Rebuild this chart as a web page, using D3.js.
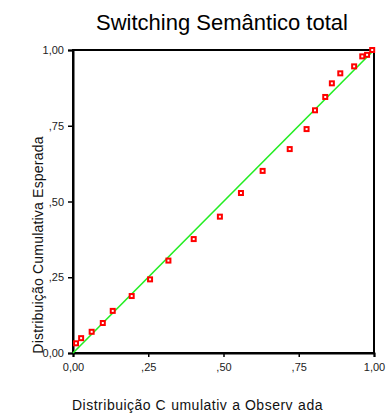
<!DOCTYPE html>
<html><head><meta charset="utf-8">
<script src="https://cdn.jsdelivr.net/npm/d3@7"></script>
<style>body{margin:0;background:#fff}svg{display:block}</style>
</head><body>
<script>
const title = "Switching Semântico total";
const observed = [0.010,0.027,0.062,0.099,0.132,0.195,0.256,0.317,0.401,0.488,0.558,0.630,0.720,0.776,0.804,0.838,0.860,0.888,0.934,0.961,0.977,0.994];
const expected = [0.032,0.049,0.070,0.099,0.139,0.188,0.243,0.305,0.376,0.450,0.528,0.601,0.673,0.739,0.801,0.845,0.890,0.923,0.946,0.979,0.984,1.000];
const tickValues = [0, 0.25, 0.5, 0.75, 1];
const tickLabels = ["0,00", ",25", ",50", ",75", "1,00"];
const xTitleParts = ["Distribuição C", "umulativ", "a Observ", "ada"];
const yTitle = "Distribuição Cumulativa Esperada";

const W = 386, H = 416;
const L = 73, R = 374, T = 50, B = 353;
const svg = d3.select("body").append("svg").attr("width", W).attr("height", H)
  .style("font-family", "'Liberation Sans', Arial, sans-serif");

const x = d3.scaleLinear().domain([0,1]).range([L,R]);
const y = d3.scaleLinear().domain([0,1]).range([B,T]);

svg.append("text").attr("x", 222).attr("y", 30).attr("text-anchor","middle")
  .attr("font-size", 22).attr("fill","#000").text(title);

// frame
svg.append("rect").attr("x", L).attr("y", T).attr("width", R-L).attr("height", B-T)
  .attr("fill","none").attr("stroke","#000").attr("stroke-width",2);

const fmt = (d) => tickLabels[tickValues.indexOf(d)];
const xAxis = d3.axisBottom(x).tickValues(tickValues).tickFormat(fmt).tickSize(4).tickPadding(6);
const yAxis = d3.axisLeft(y).tickValues(tickValues).tickFormat(fmt).tickSize(5).tickPadding(4);

const gx = svg.append("g").attr("transform", `translate(0,${B})`).call(xAxis);
const gy = svg.append("g").attr("transform", `translate(${L},0)`).call(yAxis);
[gx, gy].forEach(g => {
  g.select(".domain").attr("stroke","#000").attr("stroke-width",2);
  g.selectAll(".tick line").attr("stroke","#000").attr("stroke-width",1.5);
  g.selectAll(".tick text").attr("font-size",11).attr("fill","#222")
    .style("font-family","'Liberation Sans', Arial, sans-serif");
});

// diagonal
svg.append("line").attr("x1", x(0)).attr("y1", y(0)).attr("x2", x(1)).attr("y2", y(1))
  .attr("stroke","#22ee22").attr("stroke-width",1.6);

// points
const pts = observed.map((o,i)=>({o, e: expected[i]}));
svg.append("g").selectAll("rect").data(pts).join("rect")
  .attr("x", d => x(d.o)-2).attr("y", d => y(d.e)-2)
  .attr("width", 4).attr("height", 4)
  .attr("fill","#fff").attr("stroke","#ff0000").attr("stroke-width",2);

// x title
const xt = svg.append("text").attr("x", 72).attr("y", 409.5).attr("font-size", 14)
  .attr("letter-spacing", 0.5).attr("fill","#111");
xTitleParts.forEach((p,i) => xt.append("tspan").attr("dx", i ? 5 : 0).text(p));

// y title
svg.append("text").attr("transform", `translate(43,245) rotate(-90)`)
  .attr("text-anchor","middle").attr("font-size",14).attr("letter-spacing",0.2)
  .attr("fill","#111").text(yTitle);
</script>
</body></html>
